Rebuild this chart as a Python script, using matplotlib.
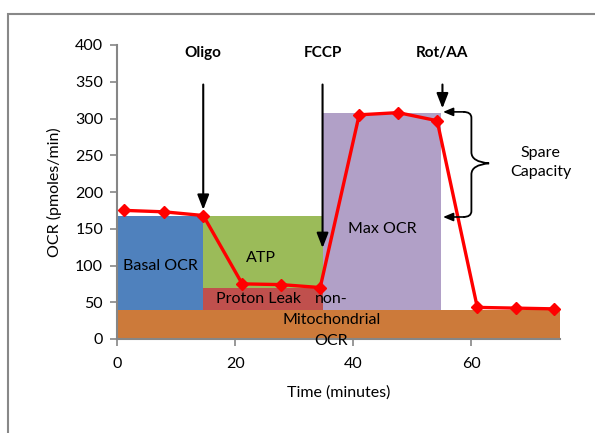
import matplotlib
matplotlib.use("Agg")
from matplotlib import pyplot as plt
from matplotlib.patches import Rectangle, PathPatch
from matplotlib.path import Path

plt.rcParams['font.family'] = ['Lato', 'DejaVu Sans']

# measured OCR trace
times = [1.2, 8.0, 14.6, 21.2, 27.8, 34.4, 41.0, 47.6, 54.2, 61.0, 67.6, 74.0]
ocr = [175, 173, 168, 75, 74, 70, 305, 308, 297, 43, 42, 41]

# shaded blocks
non_mito = 40
basal = 168
leak = 70
max_ocr = 308
oligo_t, fccp_t, rot_t, end_t = 14.6, 34.8, 54.9, 75

blocks = [
    (0, end_t, 0, non_mito, '#CC7A3A'),
    (0, oligo_t, non_mito, basal, '#4F81BD'),
    (oligo_t, fccp_t, leak, basal, '#9BBB59'),
    (oligo_t, fccp_t, non_mito, leak, '#C0504D'),
    (fccp_t, rot_t, non_mito, max_ocr, '#B1A0C7'),
]

fs = 11.5

fig = plt.figure(figsize=(5.95, 4.33), dpi=100)
ax = fig.add_axes([117 / 595, 1 - 339 / 433, (560 - 117) / 595, (339 - 45) / 433])

for x0, x1, y0, y1, c in blocks:
    ax.add_patch(Rectangle((x0, y0), x1 - x0, y1 - y0, facecolor=c, edgecolor='none', zorder=1))

ax.plot(times, ocr, color='#FF0000', lw=2.4, marker='D', markersize=6.5, zorder=5, clip_on=False)

# block labels
ax.text(7.3, 99, 'Basal OCR', ha='center', va='center', fontsize=fs)
ax.text(24.4, 110, 'ATP', ha='center', va='center', fontsize=fs)
ax.text(24.0, 55, 'Proton Leak', ha='center', va='center', fontsize=fs)
ax.text(45.0, 150, 'Max OCR', ha='center', va='center', fontsize=fs)
# non-mitochondrial label, one line at a time
for line, yy in (('non-', 54), ('Mitochondrial', 26), ('OCR', -3)):
    ax.text(36.3, yy, line, ha='center', va='center', fontsize=fs, zorder=8, clip_on=False)

# injection arrows
injections = [('Oligo', oligo_t, 172), ('FCCP', fccp_t, 120), ('Rot/AA', rot_t + 0.2, 310)]
for name, t, tip in injections:
    ax.text(t, 389, name, ha='center', va='center', fontsize=11, fontweight='bold')
    ax.annotate('', xy=(t, tip), xytext=(t, 350),
                arrowprops=dict(arrowstyle='-|>,head_length=0.9,head_width=0.35', color='black', lw=1.5),
                zorder=6)

# spare capacity brace
bx, tipx = 59.4, 63.0
ytop, ybot, ymid = 309, 166, 239
verts = [(bx - 0.8, ytop), (bx + 0.6, ytop), (bx + 0.6, ytop - 8), (bx + 0.6, ytop - 20),
         (bx + 0.6, ymid + 15), (bx + 0.6, ymid + 2), (tipx, ymid),
         (bx + 0.6, ymid - 2), (bx + 0.6, ymid - 15), (bx + 0.6, ybot + 20),
         (bx + 0.6, ybot + 8), (bx + 0.6, ybot), (bx - 0.8, ybot)]
codes = [Path.MOVETO, Path.CURVE3, Path.CURVE3, Path.LINETO,
         Path.LINETO, Path.CURVE3, Path.CURVE3,
         Path.CURVE3, Path.CURVE3, Path.LINETO,
         Path.LINETO, Path.CURVE3, Path.CURVE3]
ax.add_patch(PathPatch(Path(verts, codes), facecolor='none', edgecolor='black', lw=1.3,
                       zorder=6, clip_on=False))
for yy in (ytop, ybot):
    ax.annotate('', xy=(55.2, yy), xytext=(bx - 0.6, yy),
                arrowprops=dict(arrowstyle='-|>,head_length=0.6,head_width=0.25', color='black',
                                lw=1.2, shrinkA=0, shrinkB=0), zorder=6)
ax.text(71.7, 240, 'Spare\nCapacity', ha='center', va='center', fontsize=fs, linespacing=1.5)

ax.set_xlim(0, 75)
ax.set_ylim(0, 400)
ax.set_xticks([0, 20, 40, 60])
ax.set_yticks(range(0, 401, 50))
for s in ('top', 'right'):
    ax.spines[s].set_visible(False)
for s in ('left', 'bottom'):
    ax.spines[s].set_color('#868686')
    ax.spines[s].set_linewidth(1.5)
    ax.spines[s].set_zorder(7)
ax.tick_params(axis='both', direction='out', length=5, width=1.2, color='#868686', labelsize=fs)
ax.tick_params(axis='y', pad=5)
ax.tick_params(axis='x', pad=8)
ax.set_xlabel('Time (minutes)', fontsize=fs, labelpad=10)
ax.set_ylabel('OCR (pmoles/min)', fontsize=fs, labelpad=9)

# outer frame
fig.patches.append(Rectangle((8 / 595, -0.1), 1.2, 1 - 14 / 433 + 0.1, transform=fig.transFigure,
                             fill=False, edgecolor='#888888', lw=1.5))

fig.savefig('out.png', dpi=100)
